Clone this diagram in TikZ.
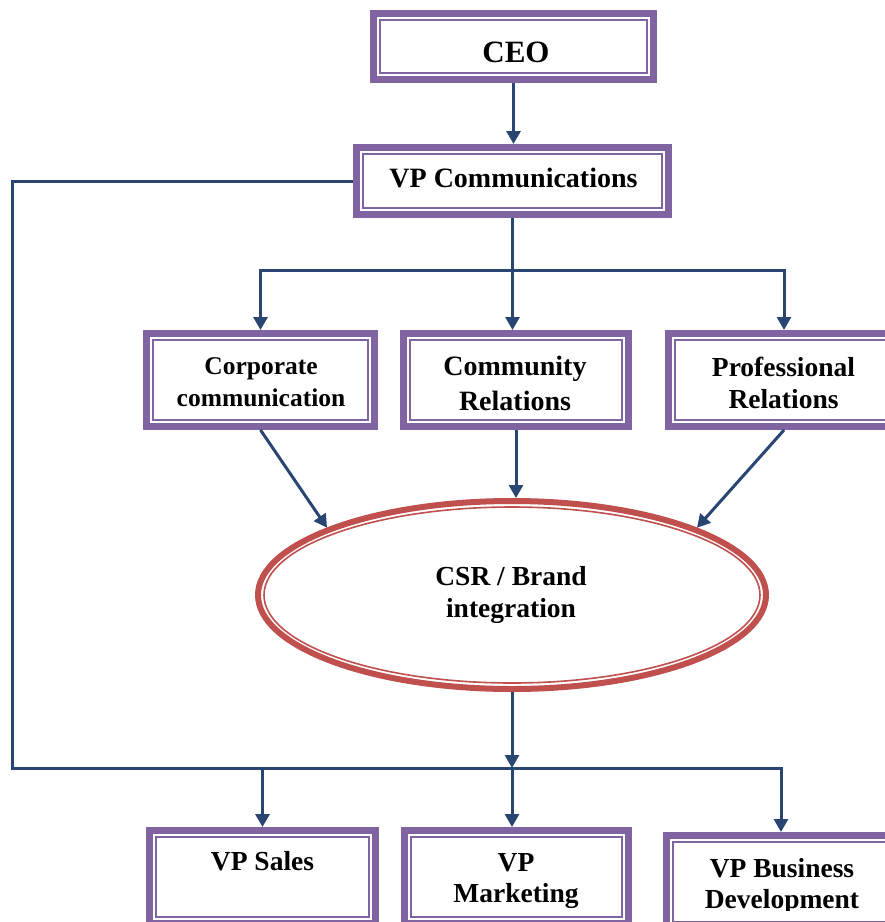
\documentclass[tikz,border=0pt]{standalone}
\usepackage{fontspec}
\setmainfont{Liberation Serif}
\usetikzlibrary{shapes.geometric,arrows.meta}

\definecolor{framepurple}{HTML}{8064A2}
\definecolor{ovalred}{HTML}{C0504D}
\definecolor{linkblue}{HTML}{294672}

\tikzset{
  orgbox/.style={draw=framepurple, line width=7pt, fill=white, inner sep=0pt, minimum height=93pt},
  innerframe/.style={draw=framepurple, line width=1.8pt},
  lbl/.style={font=\bfseries\fontsize{27.5}{32}\selectfont, align=center, inner sep=0pt, text=black},
  link/.style={draw=linkblue, line width=3pt},
  arr/.style={link, -{Triangle[width=14pt,length=13pt]}},
}

\begin{document}
\begin{tikzpicture}[x=1pt,y=-1pt]
\useasboundingbox (0,0) rectangle (885,922);
\fill[white] (0,0) rectangle (885,922);

% framed boxes
\node[orgbox, minimum width=280pt, minimum height=66pt] (ceo)  at (513.5,46.5) {};
\node[orgbox, minimum width=312pt, minimum height=67pt] (vpc)  at (512.5,181) {};
\node[orgbox, minimum width=228pt] (corp)  at (260.5,380) {};
\node[orgbox, minimum width=225pt] (comm)  at (516,380) {};
\node[orgbox, minimum width=231pt] (prof)  at (784,380) {};
\node[orgbox, minimum width=226pt] (sales) at (262.5,877) {};
\node[orgbox, minimum width=224pt] (mkt)   at (516.5,877) {};
\node[orgbox, minimum width=229pt] (biz)   at (781,882) {};

\foreach \b in {ceo,vpc,corp,comm,prof,sales,mkt,biz}
  \draw[innerframe] ([shift={(10pt,-10pt)}]\b.north west) rectangle ([shift={(-10pt,10pt)}]\b.south east);

% integration oval
\node[draw=ovalred, line width=6pt, ellipse, fill=white, inner sep=0pt,
      minimum width=508pt, minimum height=188pt] (csr) at (512,595) {};
\draw[ovalred, line width=1.6pt] (csr.center) ellipse [x radius=248pt, y radius=88pt];

% labels
\node[lbl, font=\bfseries\fontsize{31}{36}\selectfont] (ceo-l) at (516,52) {CEO};
\node[lbl, font=\bfseries\fontsize{28}{32}\selectfont] (vpc-l) at (513.5,178) {VP Communications};
\node[lbl, font=\bfseries\fontsize{25.5}{32}\selectfont] (corp-l) at (261,382) {Corporate\\communication};
\node[lbl, font=\bfseries\fontsize{28}{35}\selectfont] (comm-l) at (515,383) {Community\\Relations};
\node[lbl] (prof-l) at (783.5,383) {Professional\\Relations};
\node[lbl] (csr-l) at (511,594.5) {CSR / Brand\\integration};
\node[lbl] (sales-l) at (262.5,861) {VP Sales};
\begin{scope}
  \clip (401,827) rectangle (632,907);
  \node[lbl, font=\bfseries\fontsize{27.5}{31}\selectfont] (mkt-l) at (516,881.5) {VP\\Marketing};
\end{scope}
\begin{scope}
  \clip (663,832) rectangle (885,910);
  \node[lbl, font=\bfseries\fontsize{27.5}{31}\selectfont] (biz-l) at (782,886.5) {VP Business\\Development};
\end{scope}

% reporting lines
\coordinate (fork) at (513,270);
\coordinate (lcorner) at (12,768);

\draw[arr] (ceo.south) -- (ceo.south |- vpc.north);
\draw[arr] (vpc.south) -- (vpc.south |- comm.north);
\draw[arr] (vpc.south |- fork) -| (corp.north);
\draw[arr] (vpc.south |- fork) -| (prof.north);

\draw[arr] (corp.south) -- (csr.160);
\draw[arr] (comm.south) -- (comm.south |- csr.north);
\draw[arr] (prof.south) -- (csr.20);

\draw[arr] (vpc.west) -| (lcorner) -| (biz.north);
\draw[arr] (sales.north |- lcorner) -- (sales.north);
\draw[arr] (csr.south) -- (csr.south |- lcorner);
\draw[arr] (csr.south |- lcorner) -- (csr.south |- mkt.north);
\end{tikzpicture}
\end{document}
